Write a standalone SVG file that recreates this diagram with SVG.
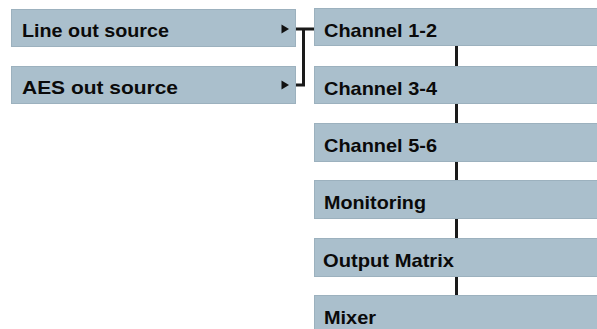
<svg xmlns="http://www.w3.org/2000/svg" width="597" height="329" viewBox="0 0 597 329">
<style>
.box{fill:#aabfcc;stroke:#9cb1be;stroke-width:1}
.lbl{font-family:"Liberation Sans",Arial,sans-serif;font-weight:bold;font-size:19px;fill:#0a0a0a}
.con{stroke:#1a1a1a;stroke-width:3;fill:none}
.tri{fill:#111}
</style>
<rect width="597" height="329" fill="#fff"/>
<g id="line-out-source">
<rect class="box" x="11.5" y="9.5" width="284" height="37"/>
<text class="lbl" x="22" y="37" textLength="147" lengthAdjust="spacingAndGlyphs">Line out source</text>
<polygon class="tri" points="281.5,24.5 289,29 281.5,33.5"/>
</g>
<g id="aes-out-source">
<rect class="box" x="11.5" y="66.5" width="284" height="37"/>
<text class="lbl" x="22" y="94" textLength="156" lengthAdjust="spacingAndGlyphs">AES out source</text>
<polygon class="tri" points="281.5,80.5 289,85 281.5,89.5"/>
</g>
<g id="channel-1-2">
<rect class="box" x="314.5" y="8.5" width="290" height="37"/>
<text class="lbl" x="324" y="37" textLength="113" lengthAdjust="spacingAndGlyphs">Channel 1-2</text>
</g>
<g id="channel-3-4">
<rect class="box" x="314.5" y="66.5" width="290" height="37"/>
<text class="lbl" x="324" y="94.5" textLength="113" lengthAdjust="spacingAndGlyphs">Channel 3-4</text>
</g>
<g id="channel-5-6">
<rect class="box" x="314.5" y="123.5" width="290" height="38"/>
<text class="lbl" x="324" y="152" textLength="113" lengthAdjust="spacingAndGlyphs">Channel 5-6</text>
</g>
<g id="monitoring">
<rect class="box" x="314.5" y="180.5" width="290" height="38"/>
<text class="lbl" x="324" y="209" textLength="102" lengthAdjust="spacingAndGlyphs">Monitoring</text>
</g>
<g id="output-matrix">
<rect class="box" x="314.5" y="238.5" width="290" height="38"/>
<text class="lbl" x="323" y="267" textLength="131" lengthAdjust="spacingAndGlyphs">Output Matrix</text>
</g>
<g id="mixer">
<rect class="box" x="314.5" y="295.5" width="290" height="40"/>
<text class="lbl" x="324" y="324" textLength="52" lengthAdjust="spacingAndGlyphs">Mixer</text>
</g>
<g id="connectors">
<path class="con" d="M296,29 H314 M303.5,29 V85 H296"/>
<path class="con" d="M456.5,46 V66 M456.5,104 V123 M456.5,162 V180 M456.5,219 V238 M456.5,277 V295"/>
</g>
</svg>
